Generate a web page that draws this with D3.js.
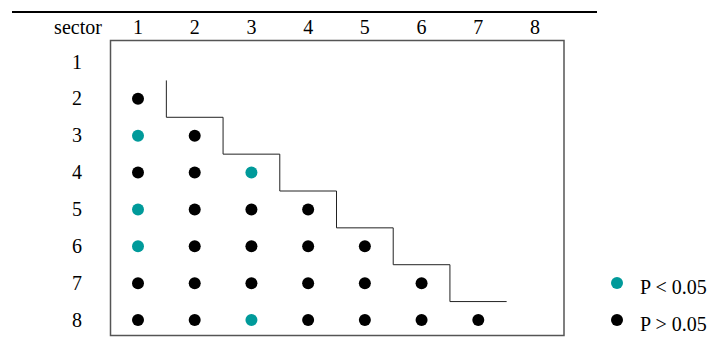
<!DOCTYPE html>
<html>
<head>
<meta charset="utf-8">
<script src="https://cdn.jsdelivr.net/npm/d3@7"></script>
<style>
body { margin: 0; background: #fff; }
svg text { font-family: "Liberation Serif", "Times New Roman", serif; font-size: 20px; fill: #000; }
</style>
</head>
<body>
<svg width="718" height="354"></svg>
<script>
var sectors = [1, 2, 3, 4, 5, 6, 7, 8];
// significant pairs [row, col] with P < 0.05
var significant = [[3, 1], [5, 1], [6, 1], [4, 3], [8, 3]];
var legendLabels = ["P < 0.05", "P > 0.05"];
var teal = "#009a9a";

var svg = d3.select("svg");

var x = d3.scaleLinear().domain([1, 8]).range([138, 535]);
var y = d3.scaleLinear().domain([1, 8]).range([62, 320]);

function isSig(r, c) {
	return significant.some(function (p) { return p[0] == r && p[1] == c; });
}

// every pair below the diagonal
var pairs = [];
sectors.forEach(function (r) {
	sectors.forEach(function (c) {
		if (c < r) pairs.push({row: r, col: c, sig: isSig(r, c)});
	});
});

// rule at the top
svg.append("line")
    .attr("x1", 12).attr("x2", 597)
    .attr("y1", 12).attr("y2", 12)
    .attr("stroke", "#000").attr("stroke-width", 2);

// frame
svg.append("rect")
    .attr("x", 110.5).attr("y", 40.5)
    .attr("width", 453.5).attr("height", 295)
    .attr("fill", "none").attr("stroke", "#555").attr("stroke-width", 1.5);

// header labels
svg.append("text")
    .attr("x", 78).attr("y", 34)
    .attr("text-anchor", "middle")
    .text("sector");

svg.selectAll(".colLabel")
    .data(sectors)
  .enter().append("text")
    .attr("class", "colLabel")
    .attr("x", function (d) { return x(d); })
    .attr("y", 34)
    .attr("text-anchor", "middle")
    .text(function (d) { return d; });

svg.selectAll(".rowLabel")
    .data(sectors)
  .enter().append("text")
    .attr("class", "rowLabel")
    .attr("x", 77)
    .attr("y", function (d) { return y(d); })
    .attr("dy", "0.33em")
    .attr("text-anchor", "middle")
    .text(function (d) { return d; });

// staircase along the diagonal
var steps = [[1.5, 1.5]];
for (var i = 1; i <= 6; i++) {
	steps.push([i + 0.5, i + 1.5]);
	steps.push([i + 1.5, i + 1.5]);
}
svg.append("path")
    .attr("d", d3.line()
        .x(function (d) { return x(d[0]); })
        .y(function (d) { return y(d[1]); })(steps))
    .attr("fill", "none")
    .attr("stroke", "#222")
    .attr("stroke-width", 1);

// dots
svg.selectAll(".dot")
    .data(pairs)
  .enter().append("circle")
    .attr("class", "dot")
    .attr("cx", function (d) { return x(d.col); })
    .attr("cy", function (d) { return y(d.row); })
    .attr("r", 6)
    .attr("fill", function (d) { return d.sig ? teal : "#000"; });

// legend
var legend = svg.selectAll(".legend")
    .data(legendLabels)
  .enter().append("g")
    .attr("class", "legend")
    .attr("transform", function (d, i) { return "translate(617," + (283 + i * 37) + ")"; });

legend.append("circle")
    .attr("r", 6)
    .attr("fill", function (d, i) { return i == 0 ? teal : "#000"; });

legend.append("text")
    .attr("x", 23)
    .attr("y", 11)
    .text(function (d) { return d; });
</script>
</body>
</html>
